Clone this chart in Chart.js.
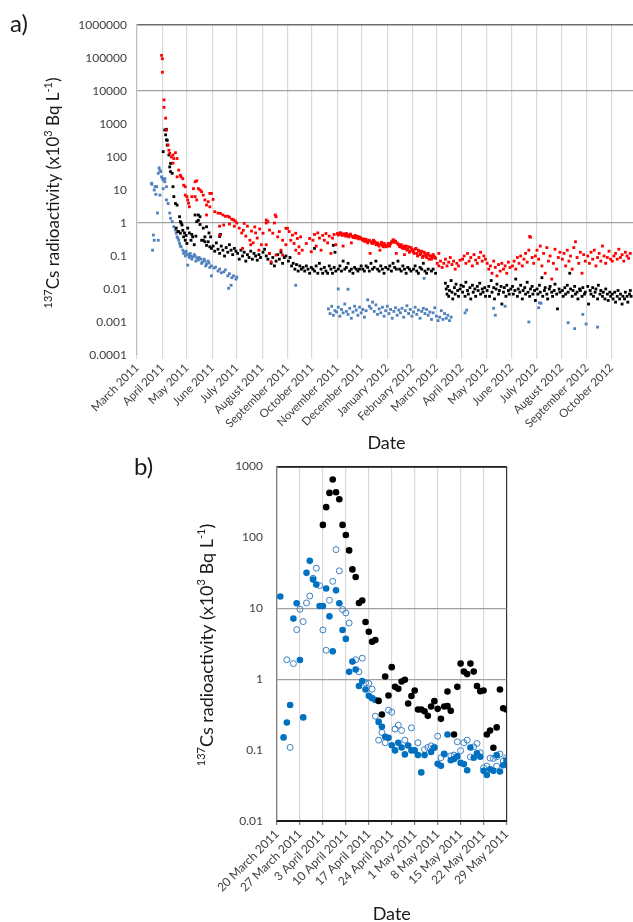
<!DOCTYPE html>
<html>
<head>
<meta charset="utf-8">
<script src="https://cdn.jsdelivr.net/npm/chart.js@4"></script>
<style>
  html, body { margin: 0; padding: 0; background: #fff; }
  body { width: 633px; height: 922px; overflow: hidden; position: relative; }
  #chart-a { position: absolute; left: 0; top: 0; }
  #chart-b { position: absolute; left: 0; top: 440px; }
</style>
</head>
<body>
<canvas id="chart-a" width="640" height="458"></canvas>
<canvas id="chart-b" width="633" height="489"></canvas>
<script>
/* panel a — days counted from 1 March 2011 */
const monthDaysA = [0, 31, 61, 92, 122, 153, 184, 214, 245, 275, 306, 337, 366, 397, 427, 458, 488, 519, 550, 580];
const monthLabelsA = ['March 2011', 'April 2011', 'May 2011', 'June 2011', 'July 2011', 'August 2011',
  'September 2011', 'October 2011', 'November 2011', 'December 2011', 'January 2012', 'February 2012',
  'March 2012', 'April 2012', 'May 2012', 'June 2012', 'July 2012', 'August 2012', 'September 2012', 'October 2012'];
const yTickValsA = [0.0001, 0.001, 0.01, 0.1, 1, 10, 100, 1000, 10000, 100000, 1000000];
const yTickLabelsA = ['0.0001', '0.001', '0.01', '0.1', '1', '10', '100', '1000', '10000', '100000', '1000000'];

const redA = [
  [30,120000],[31,95000],[31,37000],[33,5400],[33,3200],[35,1500],[36,650],[38,230],[39,160],[40,130],[42,100],[44,115],[45,90],[47,135],[49,90],[44,65],[51,40],[53,28],[54,25],[49,25],[56,22],[57,14],[59,12.6],[59,7],[61,6.3],[62,5],[63,4],[64,3.1],
  [67,6.3],[69,11],[71,17.8],[71,6.3],[73,19],[73,5],[75,11],[77,10],[79,8.9],[81,7],[83,5],[85,3.5],[85,1.75],[87,4.4],[89,7.9],[89,3.1],[91,7.9],[93,5.2],
  [95,2.2],[99,2.0],[101,0.8],[101,0.43],[102,1.95],[105,1.75],[106,0.87],[108,1.6],[111,1.6],[113,1.5],[113,0.93],[116,1.3],[118,1.25],[119,0.8],[120,1.15],[122,1.0],
  [125,0.7],[128,0.5],[129,0.17],[130,0.6],[131,0.97],[133,0.4],[135,0.8],[138,0.3],[139,0.22],[140,0.57],[142,0.25],[144,0.76],[145,0.5],[147,0.35],[149,0.15],[150,0.66],[152,0.22],
  [154,0.49],[158,1.0],[158,1.23],[160,1.1],[158,0.22],[162,0.61],[162,0.12],[164,0.067],[166,0.49],[168,1.0],[169,1.75],[170,1.55],[170,0.107],[172,0.38],[174,0.55],[176,0.15],[178,0.3],[178,0.107],[182,0.69],[182,0.22],
  [184,0.69],[186,0.55],[188,0.3],[190,0.43],[192,0.24],[194,0.49],[194,0.15],[196,0.34],[198,0.19],[198,0.12],[200,0.38],[202,0.15],[207,0.24],[211,0.34],[213,0.135],
  [215,0.3],[217,0.45],[219,0.2],[221,0.5],[223,0.35],[225,0.15],[227,0.42],[229,0.3],[231,0.48],[233,0.25],[235,0.4],[237,0.12],[239,0.35],[241,0.45],[243,0.22],
  [245,0.48],[247,0.45],[249,0.5],[251,0.42],[252,0.2],[253,0.47],[255,0.4],[257,0.44],[259,0.38],[261,0.46],[262,0.25],[263,0.4],[265,0.36],[267,0.42],[269,0.38],[271,0.33],[273,0.36],[275,0.32],
  [246,0.43],[248,0.5],[250,0.46],[254,0.44],[256,0.48],[258,0.41],[260,0.43],[264,0.37],[266,0.4],[268,0.35],[270,0.39],[272,0.37],[274,0.34],
  [276,0.3],[278,0.28],[280,0.32],[282,0.25],[284,0.3],[285,0.12],[286,0.27],[288,0.24],[290,0.28],[292,0.22],[294,0.25],[296,0.2],[297,0.15],[298,0.23],[300,0.21],[302,0.24],[304,0.19],
  [277,0.33],[279,0.3],[281,0.27],[283,0.29],[287,0.25],[289,0.3],[291,0.26],[293,0.24],[295,0.22],[299,0.26],[301,0.19],[303,0.22],[305,0.2],
  [306,0.2],[308,0.22],[310,0.24],[312,0.26],[314,0.3],[316,0.28],[317,0.12],[318,0.25],[320,0.22],[322,0.2],[324,0.18],[326,0.2],[327,0.11],[328,0.17],[330,0.15],[332,0.19],[334,0.14],[336,0.16],
  [307,0.24],[309,0.2],[311,0.27],[313,0.31],[315,0.26],[319,0.23],[321,0.19],[323,0.22],[325,0.17],[329,0.2],[331,0.16],[333,0.13],[335,0.18],
  [337,0.15],[339,0.12],[341,0.17],[343,0.1],[345,0.14],[347,0.12],[349,0.09],[351,0.13],[353,0.1],[355,0.11],[357,0.08],[359,0.1],[361,0.09],[363,0.1],[365,0.085],
  [338,0.13],[340,0.16],[342,0.12],[344,0.15],[346,0.11],[348,0.14],[350,0.1],[352,0.12],[354,0.09],[356,0.12],[358,0.1],[360,0.08],[362,0.11],[364,0.09],
  [367,0.06],[369,0.12],[369,0.05],[371,0.07],[373,0.045],[375,0.06],[377,0.08],[379,0.05],[381,0.065],[383,0.09],[385,0.055],[387,0.07],[389,0.04],[391,0.06],[393,0.05],[395,0.075],
  [398,0.08],[400,0.1],[402,0.06],[404,0.12],[406,0.07],[408,0.09],[410,0.05],[412,0.11],[414,0.075],[416,0.06],[418,0.09],[420,0.13],[422,0.07],[424,0.1],[426,0.08],
  [428,0.06],[430,0.04],[432,0.05],[434,0.03],[436,0.07],[438,0.045],[440,0.025],[442,0.055],[444,0.035],[446,0.06],[448,0.04],[450,0.05],[452,0.03],[454,0.065],[456,0.045],
  [459,0.05],[461,0.07],[463,0.04],[465,0.09],[467,0.06],[469,0.1],[471,0.05],[473,0.08],[475,0.12],[477,0.065],[479,0.15],[480,0.39],[481,0.37],[483,0.09],[485,0.06],[487,0.1],
  [489,0.15],[491,0.08],[493,0.2],[495,0.05],[497,0.12],[499,0.03],[501,0.18],[503,0.07],[505,0.1],[507,0.02],[509,0.06],[511,0.16],[513,0.04],[515,0.09],[517,0.13],
  [520,0.08],[522,0.12],[524,0.05],[526,0.15],[528,0.07],[530,0.1],[532,0.04],[534,0.18],[536,0.27],[538,0.09],[540,0.06],[542,0.13],[544,0.03],[546,0.11],[548,0.07],
  [551,0.1],[553,0.06],[555,0.13],[557,0.08],[559,0.15],[561,0.05],[563,0.09],[565,0.12],[567,0.07],[569,0.2],[571,0.1],[573,0.06],[575,0.09],[577,0.14],[579,0.08],
  [581,0.07],[583,0.1],[585,0.12],[587,0.08],[589,0.16],[591,0.09],[593,0.11],[595,0.07],[597,0.13],[599,0.1],[601,0.085],[603,0.12]
];

const blackA = [
  [32,145],[34,660],[35,470],[36,690],[36,330],[37,320],[37,230],[39,115],[40,50],[41,64],[41,36],[43,32],[44,12.6],[45,6.3],[47,3.9],[48,0.7],[49,3.5],[50,0.55],[51,0.55],[52,1.55],[53,1.1],[53,0.49],[54,1.0],[55,0.87],[56,0.6],[57,0.38],[58,0.5],[59,0.3],[60,0.42],[61,0.24],[62,0.7],[64,0.5],[66,0.3],[67,0.45],[68,0.38],[70,0.22],[71,1.75],[72,0.4],[73,1.1],[75,1.75],[75,1.2],[77,1.55],[77,0.9],[79,0.3],[81,0.7],[81,0.3],[83,0.38],[83,0.27],[85,0.77],[85,0.21],[87,0.27],[88,0.5],[89,0.19],[90,0.38],[91,0.17],
  [93,0.2],[95,0.14],[97,0.25],[99,0.16],[101,0.39],[101,0.12],[102,0.45],[103,0.2],[105,0.15],[107,0.1],[109,0.18],[111,0.13],[113,0.22],[115,0.15],[117,0.11],[119,0.17],[121,0.14],
  [123,0.12],[125,0.08],[127,0.15],[129,0.1],[131,0.13],[133,0.07],[135,0.11],[137,0.09],[139,0.14],[141,0.08],[143,0.12],[145,0.1],[147,0.075],[149,0.11],[151,0.09],
  [154,0.13],[156,0.16],[158,0.1],[160,0.08],[162,0.12],[164,0.06],[166,0.09],[168,0.05],[170,0.07],[172,0.11],[174,0.08],[176,0.13],[178,0.06],[180,0.09],[182,0.1],
  [185,0.07],[187,0.09],[189,0.05],[191,0.06],[193,0.04],[195,0.055],[197,0.035],[199,0.05],[201,0.04],[203,0.045],[205,0.035],[207,0.05],[209,0.04],[211,0.03],[213,0.045],
  [215,0.04],[217,0.17],[217,0.035],[219,0.05],[221,0.03],[223,0.06],[225,0.04],[227,0.03],[229,0.045],[231,0.035],[233,0.03],[235,0.05],[237,0.04],[239,0.03],[240,0.21],[241,0.045],[242,0.13],[243,0.035],
  [246,0.04],[248,0.05],[250,0.035],[252,0.07],[254,0.04],[256,0.045],[258,0.06],[260,0.035],[262,0.04],[264,0.03],[266,0.045],[268,0.04],[270,0.035],[272,0.04],[274,0.05],
  [276,0.04],[278,0.035],[280,0.05],[282,0.045],[284,0.035],[286,0.06],[288,0.04],[290,0.045],[292,0.07],[294,0.04],[296,0.035],[298,0.05],[300,0.04],[302,0.03],[304,0.045],
  [307,0.04],[309,0.05],[311,0.035],[313,0.06],[315,0.045],[317,0.04],[319,0.07],[321,0.04],[323,0.035],[325,0.05],[327,0.04],[329,0.03],[331,0.045],[333,0.04],[335,0.035],
  [338,0.04],[340,0.05],[342,0.035],[344,0.03],[346,0.045],[348,0.04],[350,0.06],[352,0.035],[354,0.03],[356,0.04],[360,0.035],[362,0.04],[365,0.03],
  [377,0.015],[378,0.01],[379,0.007],[380,0.012],[381,0.006],[382,0.009],[384,0.018],[385,0.008],[386,0.005],[388,0.011],[389,0.007],[390,0.014],[392,0.009],[393,0.006],[395,0.01],[396,0.013],
  [398,0.008],[399,0.012],[401,0.006],[402,0.016],[404,0.009],[405,0.007],[407,0.011],[408,0.005],[410,0.013],[411,0.008],[413,0.01],[414,0.006],[416,0.012],[417,0.009],[419,0.015],[420,0.007],[422,0.01],[423,0.008],[425,0.011],[426,0.006],
  [428,0.009],[430,0.012],[431,0.006],[433,0.018],[434,0.008],[436,0.011],[437,0.005],[439,0.01],[440,0.014],[442,0.007],[443,0.009],[445,0.012],[446,0.0035],[448,0.008],[449,0.011],[451,0.006],[452,0.013],[454,0.009],[455,0.007],[457,0.01],
  [459,0.012],[460,0.007],[462,0.009],[463,0.02],[465,0.006],[466,0.01],[468,0.008],[469,0.013],[471,0.005],[472,0.009],[474,0.011],[475,0.007],[477,0.016],[478,0.008],[480,0.006],[481,0.01],[483,0.012],[484,0.007],[486,0.009],[487,0.0045],
  [489,0.01],[490,0.007],[492,0.013],[493,0.008],[495,0.022],[496,0.006],[498,0.009],[499,0.011],[501,0.007],[502,0.005],[504,0.01],[505,0.012],[507,0.008],[508,0.006],[510,0.009],[511,0.014],[513,0.007],[514,0.0025],[516,0.01],[517,0.008],
  [520,0.009],[521,0.006],[523,0.011],[524,0.007],[526,0.013],[527,0.008],[529,0.03],[530,0.01],[532,0.006],[533,0.009],[535,0.012],[536,0.007],[538,0.008],[539,0.005],[541,0.01],[542,0.009],[544,0.006],[545,0.011],[547,0.007],[548,0.008],
  [551,0.012],[552,0.0035],[554,0.009],[555,0.007],[557,0.011],[558,0.006],[560,0.008],[561,0.01],[563,0.005],[564,0.013],[566,0.007],[567,0.009],[569,0.006],[570,0.008],[572,0.005],[573,0.01],[575,0.007],[576,0.0045],[578,0.008],[579,0.006],
  [581,0.007],[582,0.005],[584,0.008],[585,0.004],[587,0.006],[588,0.009],[590,0.005],[591,0.007],[593,0.0035],[594,0.006],[596,0.005],[597,0.008],[599,0.006],[600,0.004],[602,0.007],[603,0.009],[604,0.006]
];

const blueA = [
  [18,16],[18,15],[19,0.15],[20,0.43],[21,10],[21,0.3],[22,12.6],[23,7.4],[24,12.6],[25,2],[26,0.3],[26,32],[27,47],[28,40],[28,7],[29,36],[30,25],[31,22.6],[32,20],[32,11],[34,22],[34,17.8],[36,12.6],[36,5],[38,3.9],[40,2],[41,1.39],
  [43,1.1],[45,0.77],[47,0.61],[48,0.49],[49,0.38],[50,0.35],[51,0.3],[52,0.24],[53,0.2],[54,0.19],[56,0.15],[57,0.12],[58,0.13],[59,0.1],[60,0.14],[61,0.115],[62,0.053],[63,0.107],[64,0.09],[65,0.12],[66,0.1],[67,0.08],[68,0.094],[70,0.11],[71,0.1],[72,0.07],[73,0.087],[75,0.076],[76,0.09],[78,0.081],[79,0.06],[80,0.066],[82,0.08],[83,0.07],[84,0.05],[85,0.057],[87,0.07],[88,0.061],[89,0.045],
  [91,0.025],[91,0.05],[94,0.043],[96,0.046],[99,0.035],[101,0.04],[103,0.031],[106,0.033],[108,0.038],[111,0.025],[112,0.0105],[113,0.029],[115,0.013],[116,0.022],[118,0.025],[121,0.02],[122,0.023],
  [194,0.013],[246,0.01],[258,0.0098],[351,0.021],
  [234,0.0025],[236,0.0018],[238,0.003],[240,0.0016],[242,0.0022],[244,0.002],[246,0.0028],[248,0.0015],[250,0.0024],[252,0.0019],[254,0.0035],[256,0.0021],[258,0.0017],[260,0.0026],[262,0.0013],[264,0.002],[266,0.003],[268,0.0023],[270,0.0016],[272,0.0028],[274,0.0019],[276,0.0024],[278,0.0014],[280,0.0022],
  [282,0.0047],[284,0.003],[286,0.0026],[288,0.004],[290,0.0021],[292,0.0033],[294,0.0017],[296,0.0025],[298,0.0019],[300,0.0028],[302,0.0015],[304,0.0022],[306,0.003],[308,0.0018],[310,0.0024],[312,0.0013],[314,0.0021],[316,0.0027],[318,0.0016],[320,0.0023],[322,0.0019],[324,0.0026],[326,0.0014],[328,0.0022],
  [330,0.0031],[332,0.0018],[334,0.0024],[336,0.0015],[338,0.002],[340,0.0028],[342,0.0017],[344,0.0023],[346,0.0013],[348,0.0021],[350,0.0026],[352,0.0018],[354,0.0024],[356,0.0016],[358,0.002],[360,0.0012],[362,0.0019],[364,0.0027],[366,0.0015],[368,0.0011],[370,0.0014],[372,0.0022],[374,0.0012],[376,0.0018],[378,0.0013],[380,0.0016],[382,0.0011],[384,0.0014],
  [401,0.0019],[403,0.0023],[436,0.0026],[438,0.0016],[450,0.003],[479,0.001],[491,0.0027],[492,0.0038],[494,0.0037],[527,0.00095],[535,0.00063],[545,0.0017],[549,0.00087],[563,0.0007]
];

/* panel b — days counted from 20 March 2011 */
const weekDaysB = [0, 7, 14, 21, 28, 35, 42, 49, 56, 63, 70];
const weekLabelsB = ['20 March 2011', '27 March 2011', '3 April 2011', '10 April 2011', '17 April 2011', '24 April 2011',
  '1 May 2011', '8 May 2011', '15 May 2011', '22 May 2011', '29 May 2011'];
const yTickValsB = [0.01, 0.1, 1, 10, 100, 1000];
const yTickLabelsB = ['0.01', '0.1', '1', '10', '100', '1000'];

const blackB = [
  [14,150],[15,267],[16,424],[17,656],[18,434],[19,346],[20,150],[21,108],[22,65.6],[23,35.4],[24,27.6],[25,11.9],[26,12.9],[27,6.4],[28,4.67],[29,3.38],[30,3.57],
  [31,0.494],[32,0.318],[33,1.09],[34,0.589],[35,1.48],[36,0.78],[37,0.735],[38,0.93],[39,0.98],[40,0.455],[41,0.58],[42,0.693],[43,0.374],[44,0.374],[45,0.354],[46,0.304],[47,0.412],[48,0.49],[49,0.382],[50,0.276],
  [51,0.412],[52,0.417],[52,0.671],[53,0.358],[54,0.166],[55,0.78],[56,1.66],[57,1.28],[58,1.18],[59,1.66],[60,1.28],[61,0.8],[62,0.678],[63,0.693],[64,0.166],[65,0.189],[66,0.108],[67,0.209],[68,0.716],[69,0.39],[70,0.374]
];
const blueFilledB = [
  [1,14.7],[2,0.151],[3,0.245],[4,0.433],[5,7.16],[6,11.8],[7,1.87],[8,0.289],[9,31.6],[10,46.7],[11,25.4],[12,21.6],[13,10.8],[14,10.8],[15,19],[16,7.7],[17,2.47],[18,17.9],[19,11.8],[20,4.95],
  [21,3.7],[22,1.27],[23,1.77],[24,1.37],[25,0.8],[26,0.94],[27,0.716],[28,0.582],[29,0.54],[30,0.51],[31,0.25],[32,0.213],[33,0.154],[34,0.149],[35,0.117],[36,0.099],[37,0.127],[38,0.109],[39,0.087],[40,0.116],
  [41,0.099],[42,0.099],[43,0.085],[44,0.0485],[45,0.085],[47,0.094],[48,0.108],[49,0.064],[50,0.06],[51,0.089],[52,0.166],[53,0.072],[54,0.075],[55,0.0815],[56,0.066],[57,0.0635],[58,0.052],[59,0.109],[60,0.078],
  [61,0.09],[62,0.0805],[63,0.051],[64,0.0445],[65,0.0535],[66,0.051],[67,0.085],[68,0.05],[69,0.061],[70,0.0716]
];
const blueOpenB = [
  [3,1.88],[4,0.109],[5,1.66],[6,5.0],[7,9.7],[8,6.5],[9,11.9],[10,14.9],[11,26.5],[12,36.8],[13,20.9],[14,4.95],[15,2.56],[16,13],[17,24],[18,67.3],[19,33.8],[20,9.6],[21,8.6],[22,6.2],
  [24,1.88],[25,1.27],[26,1.98],[27,0.887],[28,0.873],[29,0.723],[30,0.301],[31,0.138],[32,0.177],[33,0.127],[34,0.366],[35,0.343],[36,0.198],[37,0.225],[38,0.189],[39,0.138],[41,0.206],[43,0.127],
  [45,0.102],[46,0.109],[47,0.115],[48,0.11],[49,0.157],[50,0.078],[51,0.087],[53,0.083],[54,0.085],[55,0.131],[56,0.098],[57,0.127],[58,0.138],[59,0.08],[60,0.111],[61,0.124],[62,0.0916],
  [63,0.0563],[64,0.0595],[65,0.077],[66,0.0764],[67,0.0805],[67,0.0595],[68,0.088],[69,0.07],[70,0.078]
];

const yTitleParts = [
  { t: '137', sup: true }, { t: 'Cs radioactivity (x10' }, { t: '3', sup: true },
  { t: ' Bq L' }, { t: '-1', sup: true }, { t: ')' }
];

const FONT = 'Lato';
const toXY = pts => pts.map(p => ({ x: p[0], y: p[1] }));

// 面板字母和带上标的纵轴标题
const panelDecor = {
  id: 'panelDecor',
  afterDraw(chart, args, o) {
    const ctx = chart.ctx;
    ctx.save();
    ctx.fillStyle = '#1a1a1a';
    ctx.textBaseline = 'middle';
    ctx.textAlign = 'left';
    ctx.font = o.letterSize + 'px ' + FONT;
    ctx.fillText(o.letter, o.letterX, o.letterY);
    const big = o.titleSize + 'px ' + FONT;
    const small = Math.round(o.titleSize * 0.62) + 'px ' + FONT;
    let total = 0;
    yTitleParts.forEach(p => { ctx.font = p.sup ? small : big; total += ctx.measureText(p.t).width; });
    ctx.translate(o.titleX, o.titleY);
    ctx.rotate(-Math.PI / 2);
    let cx = -total / 2;
    yTitleParts.forEach(p => {
      ctx.font = p.sup ? small : big;
      ctx.fillText(p.t, cx, p.sup ? -o.titleSize * 0.32 : 0);
      cx += ctx.measureText(p.t).width;
    });
    ctx.restore();
  }
};

const tickFont = { family: FONT, size: 12 };

new Chart(document.getElementById('chart-a'), {
  type: 'scatter',
  data: {
    datasets: [
      { label: 'red', data: toXY(redA), backgroundColor: '#ff0000', pointStyle: 'rect', pointRadius: 2, borderWidth: 0 },
      { label: 'black', data: toXY(blackA), backgroundColor: '#000000', pointStyle: 'rect', pointRadius: 2, borderWidth: 0 },
      { label: 'blue', data: toXY(blueA), backgroundColor: '#4f81bd', pointStyle: 'rect', pointRadius: 2, borderWidth: 0 }
    ]
  },
  options: {
    responsive: false, animation: false, devicePixelRatio: 1,
    layout: { padding: { top: 25, right: 3, bottom: 0, left: 0 } },
    plugins: {
      legend: { display: false }, tooltip: { enabled: false },
      panelDecor: { letter: 'a)', letterX: 10, letterY: 24, letterSize: 24, titleX: 54, titleY: 193, titleSize: 17 }
    },
    scales: {
      x: {
        type: 'linear', min: 0, max: 610,
        afterBuildTicks: s => { s.ticks = monthDaysA.map(v => ({ value: v })); },
        afterFit: s => { s.height = 103; },
        ticks: { autoSkip: false, minRotation: 45, maxRotation: 45, padding: 2, color: '#404040',
          font: { family: FONT, size: 11.5 }, callback: (v, i) => monthLabelsA[i] },
        grid: { color: '#d9d9d9', lineWidth: 1.2, tickLength: 4, tickColor: '#d9d9d9' },
        border: { display: false },
        title: { display: true, text: 'Date', color: '#1a1a1a', font: { family: FONT, size: 18 }, padding: { top: 4, bottom: 4 } }
      },
      y: {
        type: 'logarithmic', min: 0.0001, max: 1000000,
        afterBuildTicks: s => { s.ticks = yTickValsA.map(v => ({ value: v })); },
        afterFit: s => { s.width = 137; },
        ticks: { padding: 10, color: '#404040', font: tickFont, callback: (v, i) => yTickLabelsA[i] },
        grid: {
          drawTicks: false,
          color: c => c.tick && c.tick.value === 1000000 ? '#6d6d6d' : (c.tick && (c.tick.value === 1 || c.tick.value === 10000) ? '#a0a0a0' : 'rgba(0,0,0,0)'),
          lineWidth: c => c.tick && c.tick.value === 1000000 ? 1.6 : 1.2
        },
        border: { color: '#bfbfbf', width: 1.2 }
      }
    }
  },
  plugins: [panelDecor]
});

new Chart(document.getElementById('chart-b'), {
  type: 'scatter',
  data: {
    datasets: [
      { label: 'black', data: toXY(blackB), backgroundColor: '#000000', pointRadius: 3.3, borderWidth: 0 },
      { label: 'blue', data: toXY(blueFilledB), backgroundColor: '#0070c0', pointRadius: 3.3, borderWidth: 0 },
      { label: 'blue open', data: toXY(blueOpenB), backgroundColor: 'rgba(255,255,255,0)', borderColor: '#3a7fc4', pointRadius: 3, borderWidth: 1 }
    ]
  },
  options: {
    responsive: false, animation: false, devicePixelRatio: 1,
    layout: { padding: { top: 26.5, right: 126.5, bottom: 0, left: 0 } },
    plugins: {
      legend: { display: false }, tooltip: { enabled: false },
      panelDecor: { letter: 'b)', letterX: 134, letterY: 27, letterSize: 24, titleX: 207, titleY: 205, titleSize: 18 }
    },
    scales: {
      x: {
        type: 'linear', min: 0, max: 70,
        afterBuildTicks: s => { s.ticks = weekDaysB.map(v => ({ value: v })); },
        afterFit: s => { s.height = 108; },
        ticks: { autoSkip: false, minRotation: 45, maxRotation: 45, padding: 2, color: '#404040',
          font: tickFont, callback: (v, i) => weekLabelsB[i] },
        grid: {
          color: c => c.tick && c.tick.value === 70 ? '#333333' : (c.tick && c.tick.value === 0 ? '#7f7f7f' : '#d9d9d9'),
          lineWidth: 1.2, tickLength: 4, tickColor: '#7f7f7f'
        },
        border: { color: '#1a1a1a', width: 2 },
        title: { display: true, text: 'Date', color: '#1a1a1a', font: { family: FONT, size: 18 }, padding: { top: 4, bottom: 4 } }
      },
      y: {
        type: 'logarithmic', min: 0.01, max: 1000,
        afterBuildTicks: s => { s.ticks = yTickValsB.map(v => ({ value: v })); },
        afterFit: s => { s.width = 277; },
        ticks: { padding: 14, color: '#404040', font: tickFont, callback: (v, i) => yTickLabelsB[i] },
        grid: {
          drawTicks: false,
          color: c => c.tick && c.tick.value === 1000 ? '#1a1a1a' : (c.tick && (c.tick.value === 1 || c.tick.value === 10) ? '#a0a0a0' : 'rgba(0,0,0,0)'),
          lineWidth: c => c.tick && c.tick.value === 1000 ? 1.8 : 1.2
        },
        border: { color: '#7f7f7f', width: 1.2 }
      }
    }
  },
  plugins: [panelDecor]
});
</script>
</body>
</html>
